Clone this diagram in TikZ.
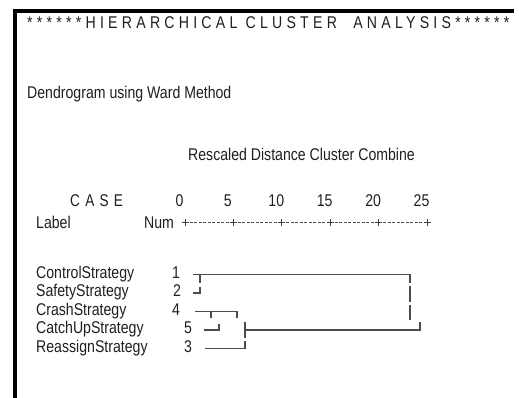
\documentclass[tikz,border=0pt]{standalone}
\usepackage{fontspec}
\setmainfont{Liberation Sans}[FakeStretch=0.83]
\newfontfamily\titlefont{Liberation Sans}[FakeStretch=0.83,LetterSpace=25]
\newfontfamily\casefont{Liberation Sans}[FakeStretch=0.8,LetterSpace=31]

\begin{document}
\begin{tikzpicture}[x=1pt,y=-1pt,
  txt/.style={inner sep=0pt, text=black!88, font=\fontsize{17}{20}\selectfont},
  titletxt/.style={inner sep=0pt, text=black!88, font=\fontsize{17}{20}\titlefont},
  casetxt/.style={inner sep=0pt, text=black!88, font=\fontsize{17}{20}\casefont},
  frame/.style={draw=black, line width=4pt, line join=miter},
  dline/.style={draw=black!70, line width=1.2pt, line cap=butt},
  axisdash/.style={draw=black!70, line width=0.8pt, dash pattern=on 3pt off 1.5pt},
  tick/.style={draw=black!75, line width=0.9pt}]
\useasboundingbox (0,0) rectangle (519,398);

% frame: top and left edges only
\draw[frame] (15,398) -- (15,11) -- (514,11);

% headings
\node[titletxt, anchor=base west] (title) at (27,29) {******HIERARCHICAL CLUSTER~~ANALYSIS******};
\node[txt, anchor=base west] (method) at (27,99) {Dendrogram using Ward Method};
\node[txt, anchor=base west] (rescaled) at (188,161) {Rescaled Distance Cluster Combine};
\node[casetxt, anchor=base west] (case) at (70,207) {CASE};
\node[txt, anchor=base west] (label) at (36,228) {Label};
\node[txt, anchor=base west] (num) at (144,228) {Num};

% distance axis: tick numbers, plus marks and dashes
\foreach \v [count=\i from 0] in {0,5,10,15,20,25} {
  \pgfmathsetmacro{\px}{185+48.4*\i}
  \node[txt, anchor=base] (n\i) at (\px-5.5,207) {\v};
  \coordinate (p\i) at (\px,222.5);
  \draw[tick] ([xshift=-3.5pt]p\i) -- ([xshift=3.5pt]p\i);
  \draw[tick] ([yshift=-3.5pt]p\i) -- ([yshift=3.5pt]p\i);
}
\foreach \i [evaluate=\i as \j using int(\i+1)] in {0,...,4}
  \draw[axisdash] ([xshift=4.5pt]p\i) -- ([xshift=-4.5pt]p\j);

% case labels and numbers
\node[txt, anchor=base west] (l1) at (36,278.1) {ControlStrategy};
\node[txt, anchor=base west] (l2) at (36,296.6) {SafetyStrategy};
\node[txt, anchor=base west] (l4) at (36,315.1) {CrashStrategy};
\node[txt, anchor=base west] (l5) at (36,333.6) {CatchUpStrategy};
\node[txt, anchor=base west] (l3) at (36,352.1) {ReassignStrategy};
\node[txt, anchor=base] (c1) at (176,278.1) {1};
\node[txt, anchor=base] (c2) at (177,296.6) {2};
\node[txt, anchor=base] (c4) at (176,315.1) {4};
\node[txt, anchor=base] (c5) at (188,333.6) {5};
\node[txt, anchor=base] (c3) at (188,352.1) {3};

% dendrogram
% cases 1 and 2
\draw[dline] (193,274.5) -- (410,274.5) -- (410,283);
\draw[dline] (200,274.5) -- (200,283);
\draw[dline] (193,293) -- (200,293) -- (200,287);
% cases 4 and 5
\draw[dline] (195,311.5) -- (237,311.5) -- (237,318);
\draw[dline] (211,311.5) -- (211,318);
\draw[dline] (204,330) -- (219,330) -- (219,323.5);
% case 3 joins 4 and 5
\draw[dline] (205,348.5) -- (245,348.5) -- (245,341);
\draw[dline] (245,322) -- (245,338);
% final merge
\draw[dline] (245,330) -- (420,330) -- (420,322);
\draw[dline] (410,286) -- (410,302);
\draw[dline] (410,305) -- (410,320);
\end{tikzpicture}
\end{document}
